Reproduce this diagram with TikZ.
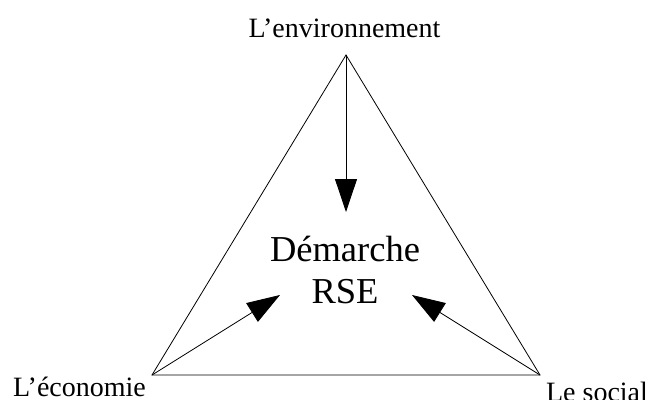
\documentclass[tikz,border=0pt]{standalone}
\usepackage{fontspec}
\setmainfont{Liberation Serif}
\usetikzlibrary{arrows.meta}

\tikzset{
  pole/.style={inner sep=0pt, anchor=base, font=\fontsize{28}{34}\selectfont},
  centre/.style={inner sep=0pt, anchor=base, font=\fontsize{36.5}{42}\selectfont},
  fleche/.style={line width=0.8pt, -{Triangle[length=33pt,width=22pt]}}
}

\begin{document}
\begin{tikzpicture}[x=1pt, y=-1pt, line width=0.8pt]
		\useasboundingbox (0,0) rectangle (653,399);
		% sommets du triangle
		\coordinate (env) at (346,55);
		\coordinate (eco) at (152,375);
		\coordinate (soc) at (540,375);
		
		% pointes des fleches
		\coordinate (haut) at (346,212);
		\coordinate (gauche) at (280,295);
		\coordinate (droite) at (412,295);
		
		\node[pole] (lenv) at (344.5,37) {L’environnement};
		\node[pole] (leco) at (79.5,396) {L’économie};
		\node[pole] (lsoc) at (597,401) {Le social};
		
		\node[centre] (dem) at (345,261) {Démarche};
		\node[centre] (rse) at (345,303) {RSE};
		
		\draw (env) -- (eco) -- (soc) -- cycle;
		
		\draw[fleche] (env) -- (haut);
		\draw[fleche] (eco) -- (gauche);
		\draw[fleche] (soc) -- (droite);
		
		%\draw[fleche] (eco) -- (soc);
\end{tikzpicture}
\end{document}
